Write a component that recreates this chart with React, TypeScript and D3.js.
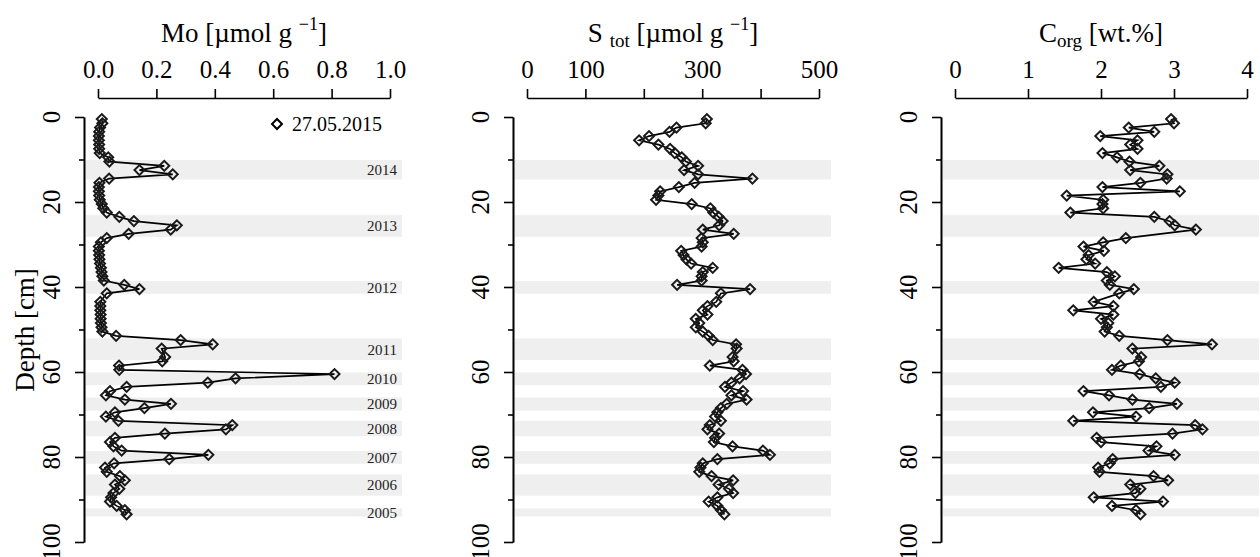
import React, { useEffect, useRef } from "react";
import * as d3 from "d3";

// sample mid-depths [cm]
const depth = [
  0.5, 1.5, 2.5, 3.5, 4.5, 5.5, 6.5, 7.5, 8.5, 9.5, 10.5, 11.5, 12.5, 13.5, 14.5, 15.5,
  16.5, 17.5, 18.5, 19.5, 20.5, 21.5, 22.5, 23.5, 24.5, 25.5, 26.5, 27.5, 28.5, 29.5, 30.5,
  31.5, 32.5, 33.5, 34.5, 35.5, 36.5, 37.5, 38.5, 39.5, 40.5, 41.5, 42.5, 43.5, 44.5, 45.5,
  46.5, 47.5, 48.5, 49.5, 50.5, 51.5, 52.5, 53.5, 54.5, 55.5, 56.5, 57.5, 58.5, 59.5, 60.5,
  61.5, 62.5, 63.5, 64.5, 65.5, 66.5, 67.5, 68.5, 69.5, 70.5, 71.5, 72.5, 73.5, 74.5, 75.5,
  76.5, 77.5, 78.5, 79.5, 80.5, 81.5, 82.5, 83.5, 84.5, 85.5, 86.5, 87.5, 88.5, 89.5, 90.5,
  91.5, 92.5, 93.5,
];

// Mo [umol/g]
const mo = [
  0.013, 0.015, 0.007, 0.004, 0.003, 0.003, 0.004, 0.004, 0.006, 0.035, 0.039, 0.227, 0.142,
  0.256, 0.038, 0.005, 0.003, 0.003, 0.004, 0.006, 0.013, 0.018, 0.03, 0.073, 0.123, 0.27,
  0.249, 0.105, 0.03, 0.01, 0.003, 0.003, 0.004, 0.005, 0.007, 0.01, 0.012, 0.015, 0.02, 0.09,
  0.142, 0.03, null, 0.008, 0.008, 0.008, 0.009, 0.009, 0.01, 0.012, 0.015, 0.062, 0.283,
  0.393, 0.218, null, 0.23, 0.22, 0.072, 0.073, 0.81, 0.471, 0.376, 0.098, 0.041, 0.027, 0.092,
  0.25, 0.159, 0.058, 0.027, 0.07, 0.46, 0.438, 0.229, 0.058, 0.041, 0.053, 0.081, 0.378, 0.244,
  0.055, 0.024, 0.03, 0.075, 0.092, 0.058, 0.073, 0.053, 0.045, 0.041, 0.064, 0.092, 0.098,
];

// S tot [umol/g]
const stot = [
  308, 306, 256, 244, 209, 192, 225, 245, 253, 265, 272, 293, 269, 293, 386, 287, 260, 228, 225,
  221, 282, 314, 319, 328, 335, 329, 301, 354, 299, 301, 299, 264, 268, 273, 281, 318, 301, 299,
  299, 257, 382, 332, null, 324, 309, 301, 309, 289, 295, 289, 301, 311, 318, 358, 359, null,
  352, 354, 313, 369, 375, 364, 350, 339, 370, 350, 376, 342, 332, 326, 322, 332, 313, 309, 329,
  322, 320, 352, 404, 416, 326, 301, 297, 295, 316, 353, 328, 346, 353, 326, 311, 326, 332, 338,
];

// C org [wt.%]
const corg = [
  2.96, 3.0, 2.38, 2.73, 1.99, 2.5, 2.4, 2.5, 2.02, 2.22, 2.39, 2.8, 2.4, 2.91, 2.9, 2.54, 2.02,
  3.08, 1.53, 2.03, 2.02, 2.03, 1.58, 2.73, 2.94, 3.01, 3.3, null, 2.34, 2.03, 1.76, 2.04, 1.83,
  1.8, 1.92, 1.42, 2.08, 2.19, 2.08, 2.12, 2.45, 2.25, null, 1.9, 2.17, 1.62, 2.17, 2.0, 2.1,
  2.08, 2.05, 2.25, 2.91, 3.52, 2.43, null, 2.55, 2.52, 2.27, 2.15, 2.53, 2.75, 3.01, 2.82, 1.76,
  2.11, 2.43, 3.04, 2.66, 1.89, 2.48, 1.62, 3.29, 3.39, 2.98, 1.94, 2.0, 2.76, 2.65, 3.01, 2.16,
  2.12, 1.96, 1.98, 2.72, 2.92, 2.4, 2.54, 2.47, 1.9, 2.85, 2.15, 2.48, 2.54,
];

// annual layers (grey bands)
const bandYears = ["2014", "2013", "2012", "2011", "2010", "2009", "2008", "2007", "2006", "2005"];
const bandTop = [10.1, 23.1, 38.6, 52.1, 60.1, 66.0, 71.5, 78.6, 84.1, 92.1];
const bandBottom = [14.7, 28.2, 41.6, 57.2, 63.1, 69.1, 75.1, 81.6, 89.1, 94.0];

const moTicks = [0, 0.2, 0.4, 0.6, 0.8, 1.0];
const moTickLabels = ["0.0", "0.2", "0.4", "0.6", "0.8", "1.0"];
const sTicks = [0, 100, 200, 300, 400, 500];
const sTickLabels = ["0", "100", "", "300", "", "500"];
const cTicks = [0, 1, 2, 3, 4];
const cTickLabels = ["0", "1", "2", "3", "4"];
const depthMajor = [0, 20, 40, 60, 80, 100];
const depthMinor = [10, 30, 50, 70, 90];

const FONT = "'Liberation Serif', 'Times New Roman', serif";

function App() {
  const ref = useRef<SVGSVGElement>(null);

  useEffect(() => {
    drawChart();
  }, []);

  function drawChart() {
    const svg = d3.select(ref.current);
    svg.selectAll("*").remove();

    const y = d3.scaleLinear().domain([0, 100]).range([117, 542]);
    const panelW = 292;

    const panels = [
      { x0: 98, values: mo, domain: [0, 1], ticks: moTicks, labels: moTickLabels, title: "mo" },
      { x0: 527, values: stot, domain: [0, 500], ticks: sTicks, labels: sTickLabels, title: "s" },
      { x0: 955, values: corg, domain: [0, 4], ticks: cTicks, labels: cTickLabels, title: "c" },
    ];

    panels.forEach((p, pi) => {
      const x = d3.scaleLinear().domain(p.domain).range([p.x0, p.x0 + panelW]);
      const axisX = p.x0 - 14;
      const g = svg.append("g");

      // grey year bands
      g.selectAll("rect.band")
        .data(bandYears)
        .enter()
        .append("rect")
        .attr("x", axisX + 2)
        .attr("width", p.x0 + 304 - (axisX + 2))
        .attr("y", (_, i) => y(bandTop[i]))
        .attr("height", (_, i) => y(bandBottom[i]) - y(bandTop[i]))
        .attr("fill", "#efefef");

      if (pi === 0) {
        g.selectAll("text.year")
          .data(bandYears)
          .enter()
          .append("text")
          .attr("x", p.x0 + 299)
          .attr("y", (_, i) => (y(bandTop[i]) + y(bandBottom[i])) / 2)
          .attr("dy", "0.35em")
          .attr("text-anchor", "end")
          .attr("font-family", FONT)
          .attr("font-size", 15)
          .attr("fill", "#222")
          .text((d) => d);
      }

      // x axis on top
      const xAxis = d3
        .axisTop(x)
        .tickValues(p.ticks)
        .tickSize(9)
        .tickSizeOuter(0)
        .tickPadding(11)
        .tickFormat((_, i) => p.labels[i]);
      const xa = g
        .append("g")
        .attr("transform", "translate(0,98)")
        .call(xAxis)
        .attr("font-family", FONT)
        .attr("font-size", 25);
      xa.selectAll("path, line").attr("stroke", "#000").attr("stroke-width", 1.6);
      xa.selectAll("text").attr("fill", "#000");

      // y axis
      const yMajor = d3.axisLeft(y).tickValues(depthMajor).tickSize(9).tickSizeOuter(0).tickFormat(() => "");
      const yMinor = d3.axisLeft(y).tickValues(depthMinor).tickSize(5).tickSizeOuter(0).tickFormat(() => "");
      const ya = g.append("g").attr("transform", `translate(${axisX},0)`).call(yMajor);
      const yb = g.append("g").attr("transform", `translate(${axisX},0)`).call(yMinor);
      [ya, yb].forEach((a) => a.selectAll("path, line").attr("stroke", "#000").attr("stroke-width", 1.6));

      g.selectAll("text.ylab")
        .data(depthMajor)
        .enter()
        .append("text")
        .attr("transform", (d) => `translate(${axisX - 24},${y(d)}) rotate(-90)`)
        .attr("text-anchor", "middle")
        .attr("font-family", FONT)
        .attr("font-size", 25)
        .text((d) => d);

      // title
      const t = g
        .append("text")
        .attr("x", p.x0 + panelW / 2)
        .attr("y", 42)
        .attr("text-anchor", "middle")
        .attr("font-family", FONT)
        .attr("font-size", 27);
      if (p.title === "mo") {
        t.append("tspan").text("Mo [\u00b5mol g ");
        t.append("tspan").attr("dy", -12).attr("font-size", 18).text("\u22121");
        t.append("tspan").attr("dy", 12).text("]");
      } else if (p.title === "s") {
        t.append("tspan").text("S ");
        t.append("tspan").attr("dy", 5).attr("font-size", 19).text("tot");
        t.append("tspan").attr("dy", -5).text(" [\u00b5mol g ");
        t.append("tspan").attr("dy", -12).attr("font-size", 18).text("\u22121");
        t.append("tspan").attr("dy", 12).text("]");
      } else {
        t.append("tspan").text("C");
        t.append("tspan").attr("dy", 5).attr("font-size", 19).text("org");
        t.append("tspan").attr("dy", -5).text(" [wt.%]");
      }

      // profile line + diamonds
      const pts = depth
        .map((d, i) => ({ d, v: p.values[i] }))
        .filter((q) => q.v !== null) as { d: number; v: number }[];

      const line = d3
        .line<{ d: number; v: number }>()
        .x((q) => x(q.v))
        .y((q) => y(q.d));

      g.append("path")
        .datum(pts)
        .attr("d", line)
        .attr("fill", "none")
        .attr("stroke", "#000")
        .attr("stroke-width", 1.6);

      const diamond = d3.symbol().type(d3.symbolSquare).size(50);
      g.selectAll("path.pt")
        .data(pts)
        .enter()
        .append("path")
        .attr("d", diamond)
        .attr("transform", (q) => `translate(${x(q.v)},${y(q.d)}) rotate(45)`)
        .attr("fill", "none")
        .attr("stroke", "#1a1a1a")
        .attr("stroke-width", 2);
    });

    // legend
    svg
      .append("path")
      .attr("d", d3.symbol().type(d3.symbolSquare).size(50)())
      .attr("transform", "translate(277,124) rotate(45)")
      .attr("fill", "none")
      .attr("stroke", "#000")
      .attr("stroke-width", 2);
    svg
      .append("text")
      .attr("x", 292)
      .attr("y", 131)
      .attr("font-family", FONT)
      .attr("font-size", 20)
      .text("27.05.2015");

    // y label
    svg
      .append("text")
      .attr("transform", "translate(34,330) rotate(-90)")
      .attr("text-anchor", "middle")
      .attr("font-family", FONT)
      .attr("font-size", 27)
      .text("Depth [cm]");
  }

  return (
    <svg
      ref={ref}
      width={1260}
      height={557}
      style={{ position: "absolute", left: 0, top: 0, background: "#fff" }}
    />
  );
}

export default App;
